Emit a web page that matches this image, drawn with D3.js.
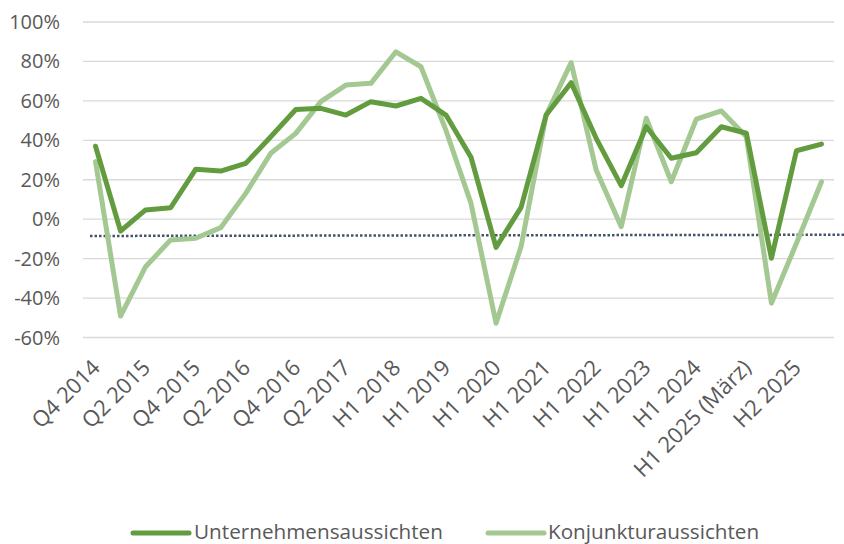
<!DOCTYPE html>
<html>
<head>
<meta charset="utf-8">
<script src="https://cdn.jsdelivr.net/npm/d3@7"></script>
<style>
  body { margin: 0; background: #fff; }
  svg { display: block; font-family: "Open Sans", sans-serif; }
</style>
</head>
<body>
<div id="chart"></div>
<script>
const periods = [
  'Q4 2014', 'Q1 2015', 'Q2 2015', 'Q3 2015', 'Q4 2015', 'Q1 2016', 'Q2 2016', 'Q3 2016',
  'Q4 2016', 'Q1 2017', 'Q2 2017', 'H2 2017', 'H1 2018', 'H2 2018', 'H1 2019', 'H2 2019',
  'H1 2020', 'H2 2020', 'H1 2021', 'H2 2021', 'H1  2022', 'H2 2022', 'H1 2023', 'H2 2023',
  'H1 2024', 'H2 2024', 'H1 2025 (März)', 'H1 2025 (Juni)', 'H2 2025', 'H1 2026'
];
const unternehmen = [
  37, -6, 4.7, 5.8, 25.3, 24.4, 28.3, 41.8, 55.6, 56.2, 52.8, 59.6, 57.4, 61.3, 52.8,
  31.4, -14.3, 6, 52.8, 69.2, 41, 17, 46.9, 30.9, 33.7, 46.9, 43.6, -19.8, 34.7, 38.1
];
const konjunktur = [
  29.2, -49.1, -24.1, -10.5, -9.7, -4.3, 13.1, 33.4, 43.5, 59.6, 68, 68.9, 84.9, 77.3, 45,
  8, -52.8, -13.9, 52.8, 79.4, 24.9, -3.8, 51.2, 19, 50.7, 54.9, 41.8, -42.6, -12.2, 19
];
// dotted trend line: [index, value] at both ends
const trendIndex = [-0.22, 29.9];
const trendValue = [-8.5, -7.9];
const yTicks = [-60, -40, -20, 0, 20, 40, 60, 80, 100];
const seriesNames = ['Unternehmensaussichten', 'Konjunkturaussichten'];

const width = 844, height = 544;
const plot = { left: 83, right: 834, top: 22, bottom: 337.5 };
const colors = ['#639c3f', '#a3c891'];

const svg = d3.select('#chart').append('svg').attr('width', width).attr('height', height);

const x = d3.scalePoint().domain(periods).range([plot.left, plot.right]).padding(0.5);
const step = x.step();
const xi = d3.scaleLinear().domain([0, 1]).range([x(periods[0]), x(periods[0]) + step]);
const y = d3.scaleLinear().domain([-60, 100]).range([plot.bottom, plot.top]);

// gridlines
svg.append('g').selectAll('line').data(yTicks).join('line')
  .attr('x1', plot.left).attr('x2', plot.right)
  .attr('y1', (d) => y(d)).attr('y2', (d) => y(d))
  .attr('stroke', '#d9d9d9').attr('stroke-width', 1.3);

// y labels
svg.append('g').selectAll('text').data(yTicks).join('text')
  .attr('x', 60).attr('y', (d) => y(d)).attr('dy', '0.35em')
  .attr('text-anchor', 'end').attr('font-size', 20).attr('fill', '#595959')
  .text((d) => `${d}%`);

// x labels (every second period)
svg.append('g').selectAll('text').data(periods.filter((d, i) => i % 2 === 0)).join('text')
  .attr('transform', (d) => `translate(${x(d) + 6},${369}) rotate(-45)`)
  .attr('text-anchor', 'end').attr('font-size', 22).attr('fill', '#595959')
  .text((d) => d);

// trend line
svg.append('line')
  .attr('x1', xi(trendIndex[0])).attr('x2', xi(trendIndex[1]))
  .attr('y1', y(trendValue[0])).attr('y2', y(trendValue[1]))
  .attr('stroke', '#44546a').attr('stroke-width', 2.5).attr('stroke-dasharray', '2.5,2');

const line = d3.line().x((d, i) => x(periods[i])).y((d) => y(d));
[konjunktur, unternehmen].forEach((values, k) => {
  svg.append('path').datum(values)
    .attr('d', line)
    .attr('fill', 'none')
    .attr('stroke', k === 0 ? colors[1] : colors[0])
    .attr('stroke-width', 5)
    .attr('stroke-linejoin', 'round').attr('stroke-linecap', 'round');
});

// legend
const legendX = [133, 488];
const legend = svg.append('g').selectAll('g').data(seriesNames).join('g')
  .attr('transform', (d, i) => `translate(${legendX[i]},533)`);
legend.append('line').attr('x1', 0).attr('x2', 56).attr('y1', 0).attr('y2', 0)
  .attr('stroke', (d, i) => colors[i]).attr('stroke-width', 5).attr('stroke-linecap', 'round');
legend.append('text').attr('x', (d, i) => (i === 0 ? 61 : 60)).attr('y', 0).attr('dy', '0.3em')
  .attr('font-size', 20.7).attr('fill', '#595959')
  .text((d) => d);
</script>
</body>
</html>
